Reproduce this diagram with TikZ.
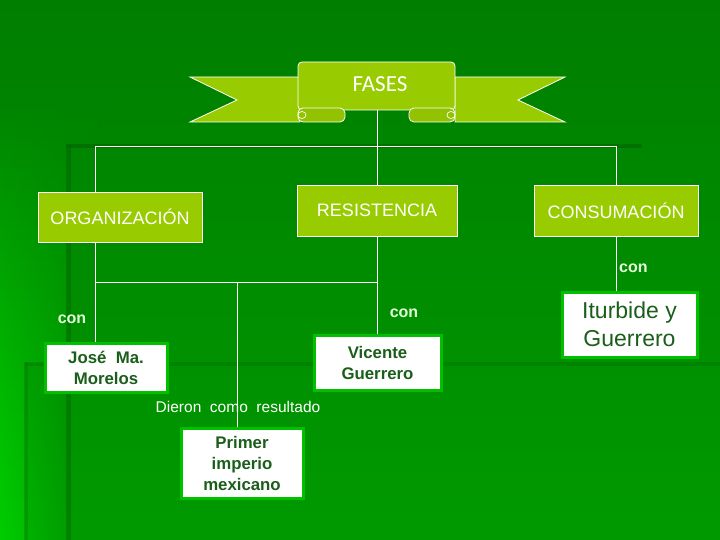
\documentclass[tikz,border=0pt]{standalone}
\usepackage{fontspec}
\setmainfont{Liberation Sans}
\newfontfamily\calibrifont{Carlito}
\definecolor{bgtop}{HTML}{007E00}
\definecolor{bgbot}{HTML}{009A00}
\definecolor{bgleft}{HTML}{00CC00}
\definecolor{bgdark}{HTML}{006400}
\definecolor{lime}{HTML}{99CC00}
\definecolor{limedark}{HTML}{92C200}
\definecolor{boxedge}{HTML}{00C000}
\definecolor{darktext}{HTML}{1B5E1B}
\definecolor{context}{HTML}{E4FFD8}
\tikzset{
  greenbox/.style={draw=white, line width=0.8pt, fill=lime, text=white, inner sep=0pt,
    font=\fontsize{18}{21}\selectfont},
  whitebox/.style={draw=boxedge, line width=3pt, fill=white, text=darktext, inner sep=0pt,
    align=center, font=\bfseries\fontsize{16.8}{21}\selectfont},
  conn/.style={draw=white, line width=0.7pt},
  lbl/.style={text=context, inner sep=0pt, font=\bfseries\fontsize{16}{18}\selectfont},
  banner/.style={fill=lime, draw=white, line width=0.8pt, line join=miter},
}
\begin{document}
\begin{tikzpicture}[x=1pt, y=-1pt]
\useasboundingbox (0,0) rectangle (720,540);
% background
\shade[top color=bgtop, bottom color=bgbot] (0,0) rectangle (720,540);
\foreach \i in {0,...,43} {
  \pgfmathtruncatemacro{\ya}{100+10*\i}
  \pgfmathtruncatemacro{\yb}{111+10*\i}
  \pgfmathtruncatemacro{\pb}{(\ya+5)/5.4}
  \pgfmathtruncatemacro{\pl}{100*\i/43}
  \colorlet{stripbg}{bgbot!\pb!bgtop}
  \colorlet{stripl}{bgleft!\pl!stripbg}
  \shade[left color=stripl, right color=stripbg] (0,\ya) rectangle (100,\yb);
}
\shade[top color=bgbot!27!bgtop, bottom color=bgbot] (67,145) rectangle (720,540);
\fill[black, opacity=0.07] (25,363) rectangle (67,540);
\fill[bgdark, opacity=0.45] (66,145) rectangle (71,540);
\fill[bgdark, opacity=0.6] (66,144) rectangle (642,148);
\fill[bgdark, opacity=0.3] (25,362) rectangle (720,366);
\fill[bgdark, opacity=0.3] (24,362) rectangle (28,540);
% banner
\path[banner] (190,77) -- (300,77) -- (300,122) -- (190,122) -- (237,100) -- cycle;
\path[banner] (565,77) -- (455,77) -- (455,122) -- (565,122) -- (518,100) -- cycle;
\path[fill=lime, draw=white, line width=0.8pt, rounded corners=4] (298,110) -- (298,62) -- (455,62) -- (455,110) -- cycle;
\path[fill=limedark, draw=white, line width=0.8pt, rounded corners=5] (298,108) rectangle (345,122);
\path[fill=limedark, draw=white, line width=0.8pt, rounded corners=5] (409,108) rectangle (455,122);
\draw[white, line width=0.7pt] (302,115) ellipse [x radius=4, y radius=3.5];
\draw[white, line width=0.7pt] (451,115) ellipse [x radius=4, y radius=3.5];
\node[text=white, font=\calibrifont\fontsize{23}{26}\selectfont] (fases) at (380,84) {FASES};
\coordinate (fb) at (377,110);
% level 1 boxes
\node[greenbox, minimum width=164pt, minimum height=50pt] (org) at (120,217) {ORGANIZACIÓN};
\node[greenbox, minimum width=160pt, minimum height=51pt] (res) at (377,210.5) {RESISTENCIA};
\node[greenbox, minimum width=164pt, minimum height=51pt] (cons) at (616,210.5) {CONSUMACIÓN};
% level 2 boxes
\node[whitebox, minimum width=122pt, minimum height=49pt] (jose) at (106,367.5) {José~~Ma.\\Morelos};
\node[whitebox, minimum width=127pt, minimum height=55pt] (vic) at (377.5,363) {Vicente\\Guerrero};
\node[whitebox, minimum width=122pt, minimum height=70pt] (prim) at (242,463) {Primer\\imperio\\mexicano};
\node[whitebox, minimum width=135pt, minimum height=65pt,
  font=\fontsize{23}{28}\selectfont] (itur) at (629.5,324.5) {Iturbide y\\Guerrero};
% junction coordinates
\coordinate (c1) at (95,146);
\coordinate (c3) at (616,146);
\coordinate (h1) at (95,282);
\coordinate (h2) at (377,282);
\coordinate (h3) at (237,282);
% connectors
\draw[conn] (fb) -- (res.north);
\draw[conn] (c1 |- org.north) -- (c1) -- (c3) -- (cons.north);
\draw[conn] (c1 |- org.south) -- (c1 |- jose.north);
\draw[conn] (h1) -- (h2);
\draw[conn] (res.south) -- (res.south |- vic.north);
\draw[conn] (h3) -- (h3 |- prim.north);
\draw[conn] (cons.south) -- (cons.south |- itur.north);
% labels
\node[lbl] (con1) at (72,319) {con};
\node[lbl] (con2) at (404,313) {con};
\node[lbl, anchor=west] (con3) at (619,268) {con};
\node[text=white, inner sep=0pt, font=\fontsize{15.5}{18}\selectfont] (dieron) at (238,407) {Dieron~~como~~resultado};
\end{tikzpicture}
\end{document}
